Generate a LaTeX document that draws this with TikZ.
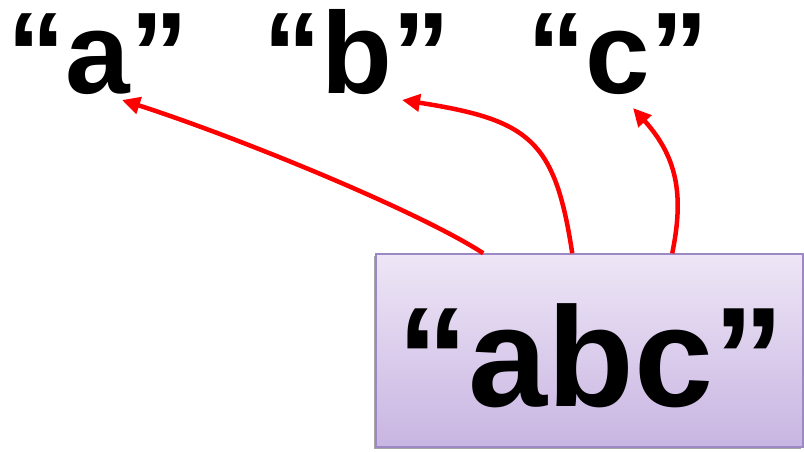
\documentclass[tikz,border=0pt]{standalone}
\usepackage{fontspec}
\setmainfont{Liberation Sans}
\usetikzlibrary{arrows.meta,calc,shadows}
\definecolor{boxtop}{HTML}{EEE6F6}
\definecolor{boxbot}{HTML}{C8B5E2}
\definecolor{boxline}{HTML}{9C88C2}
\definecolor{arrowred}{HTML}{FF0000}
\tikzset{
  lbl/.style={font=\fontsize{116}{116}\selectfont\bfseries, inner sep=0pt, anchor=base},
  strbox/.style={draw=boxline, line width=1.5pt, top color=boxtop, bottom color=boxbot,
    minimum width=427pt, minimum height=193pt, inner sep=0pt,
    drop shadow={shadow xshift=-2pt, shadow yshift=-2pt, opacity=0.35, fill=black}},
  boxtext/.style={font=\fontsize{142}{142}\selectfont\bfseries, inner sep=0pt, anchor=base},
  link/.style={draw=arrowred, line width=4.5pt, -{Triangle[length=18pt,width=17pt]}}
}
\begin{document}
\begin{tikzpicture}[x=1pt,y=-1pt]
\useasboundingbox (0,0) rectangle (804,451);
\node[strbox] (box) at (589.5,350.5) {};
\node[boxtext] (abc) at (591,406) {“abc”};
\node[lbl] (a) at (98,93) {“a”};
\node[lbl] (b) at (357,93) {“b”};
\node[lbl] (c) at (618,93) {“c”};
\coordinate (sa) at ($(box.north west)+(108,0)$);
\coordinate (sb) at ($(box.north west)+(197,0)$);
\coordinate (sc) at ($(box.north west)+(297,0)$);
\coordinate (ta) at (122,100);
\coordinate (tb) at (402,100);
\coordinate (tc) at (633,108);
\draw[link] (sa) .. controls (420,212) and (240,138) .. (ta);
\draw[link] (sb) .. controls (555,140) and (530,120) .. (tb);
\draw[link] (sc) .. controls (683,200) and (680,160) .. (tc);
\end{tikzpicture}
\end{document}
